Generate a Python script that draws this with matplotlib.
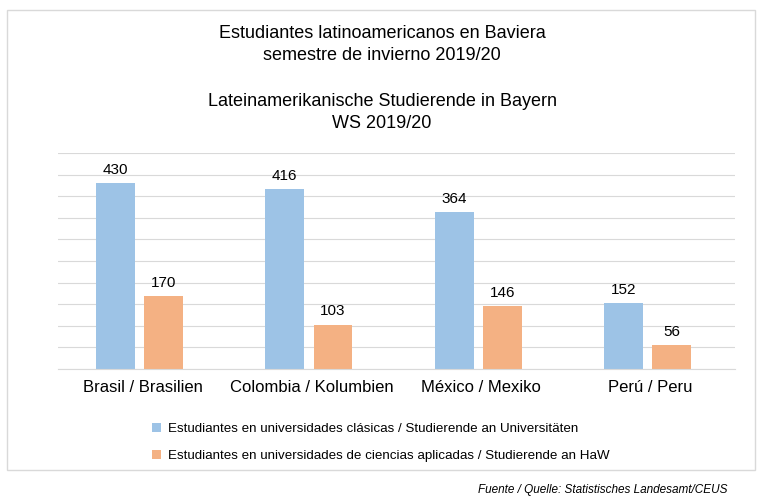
import matplotlib.pyplot as plt
import numpy as np
from matplotlib.patches import Rectangle

plt.rcParams['font.family'] = 'Liberation Sans'

# ---------------- DATA ----------------
categories = ["Brasil / Brasilien", "Colombia / Kolumbien", "México / Mexiko", "Perú / Peru"]
universidades = [430, 416, 364, 152]
haw = [170, 103, 146, 56]
label_uni = "Estudiantes en universidades clásicas / Studierende an Universitäten"
label_haw = "Estudiantes en universidades de ciencias aplicadas / Studierende an HaW"
title_lines = ["Estudiantes latinoamericanos en Baviera", "semestre de invierno 2019/20", "",
               "Lateinamerikanische Studierende in Bayern", "WS 2019/20"]
source = "Fuente / Quelle: Statistisches Landesamt/CEUS"

BLUE = "#9DC3E6"
ORANGE = "#F4B183"

fig = plt.figure(figsize=(7.64, 5.01), dpi=100)
fig.patches.append(Rectangle((7/764, 1-470/501), 748/764, 460/501, transform=fig.transFigure,
                             fill=False, edgecolor="#D9D9D9", linewidth=1))
ax = fig.add_axes([58/764, 1-369/501, 677/764, 216/501])

x = np.arange(len(categories))
w = 0.23
off_u, off_h = -0.16, 0.125
ax.bar(x + off_u, universidades, w, color=BLUE, label=label_uni, zorder=2)
ax.bar(x + off_h, haw, w, color=ORANGE, label=label_haw, zorder=2)
for xi, u, h in zip(x, universidades, haw):
    ax.text(xi + off_u, u + 14, str(u), ha='center', va='bottom', fontsize=11)
    ax.text(xi + off_h, h + 14, str(h), ha='center', va='bottom', fontsize=11)

ax.set_xlim(-0.5, 3.5)
ax.set_ylim(0, 500)
ax.set_yticks(np.arange(0, 501, 50))
ax.set_yticklabels([])
ax.tick_params(axis='y', length=0)
ax.tick_params(axis='x', length=0, labelsize=12, pad=8)
ax.set_xticks(x)
ax.set_xticklabels(categories)
ax.grid(axis='y', color="#D9D9D9", linewidth=0.8, zorder=0)
for s in ['top', 'right', 'left']:
    ax.spines[s].set_visible(False)
ax.spines['bottom'].set_color("#D9D9D9")

for t, y in zip(title_lines, [33, 55, 78, 101, 123]):
    if t:
        fig.text(0.5, 1 - y/501, t, ha='center', va='center', fontsize=13)

fig.legend(loc='upper left', bbox_to_anchor=(140/764, 1-411/501), frameon=False,
           fontsize=9.6, handlelength=0.7, handleheight=0.7, labelspacing=1.1, handletextpad=0.5)

fig.text(727/764, 1-490/501, source, ha='right', va='center', fontsize=8.5, style='italic')

fig.savefig("out.png", dpi=100)
